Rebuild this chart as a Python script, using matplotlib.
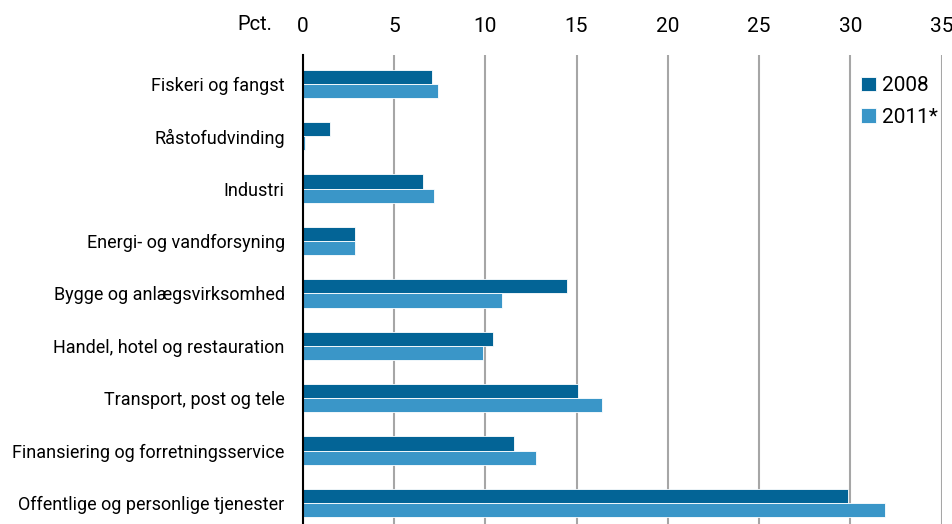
import numpy as np
import matplotlib.pyplot as plt

plt.rcParams["font.family"] = ["Roboto", "DejaVu Sans"]

kategorier = ["Fiskeri og fangst", "Råstofudvinding", "Industri",
              "Energi- og vandforsyning", "Bygge og anlægsvirksomhed",
              "Handel, hotel og restauration", "Transport, post og tele",
              "Finansiering og forretningsservice",
              "Offentlige og personlige tjenester"]
v2008 = [7.1, 1.5, 6.6, 2.85, 14.5, 10.4, 15.1, 11.6, 29.9]
v2011 = [7.4, 0.15, 7.2, 2.85, 10.9, 9.9, 16.4, 12.8, 31.9]
xticks = [0, 5, 10, 15, 20, 25, 30, 35]

fig = plt.figure(figsize=(9.52, 5.24), dpi=100)
ax = fig.add_axes([0.318, 0.0, 0.671, 0.895])

y = np.arange(len(kategorier))
h = 0.27
ax.barh(y - h/2, v2008, height=h, color="#036496", edgecolor="white", linewidth=0.6, label="2008", zorder=3)
ax.barh(y + h/2, v2011, height=h, color="#3a96c8", edgecolor="white", linewidth=0.6, label="2011*", zorder=3)

ax.set_xlim(0, 35)
ax.set_ylim(8.4, -0.55)
ax.set_xticks(xticks)
ax.xaxis.tick_top()
ax.tick_params(axis="x", length=0, pad=14, labelsize=15)
ax.tick_params(axis="y", length=0, pad=13, labelsize=13)
ax.set_yticks(y)
ax.set_yticklabels(kategorier)
ax.grid(axis="x", color="#a6a6a6", linewidth=1.5, zorder=0)
for s in ["top", "right", "bottom"]:
    ax.spines[s].set_visible(False)
ax.spines["left"].set_color("black")
ax.spines["left"].set_linewidth(1.5)
ax.spines["left"].set_zorder(4)

fig.text(0.268, 0.953, "Pct.", fontsize=14.5, ha="center", va="center")

leg = ax.legend(loc="upper right", bbox_to_anchor=(1.02, 0.99), frameon=False,
                fontsize=15, handlelength=0.7, handleheight=0.7,
                handletextpad=0.3, labelspacing=0.6, borderpad=0.3)

fig.savefig("out.png", dpi=100)
